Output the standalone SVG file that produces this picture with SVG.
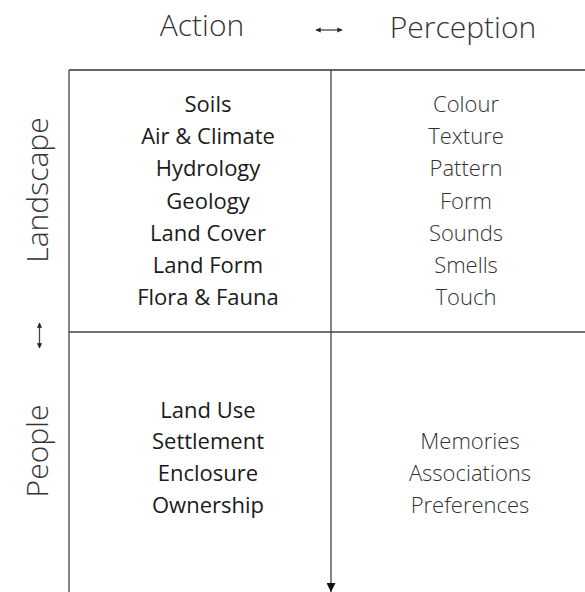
<svg xmlns="http://www.w3.org/2000/svg" width="585" height="592" viewBox="0 0 585 592">
<style>
.t{font-family:"Open Sans","Liberation Sans",sans-serif;fill:#1a1a1a;text-anchor:middle}
.hd{font-size:30px;font-weight:300;fill:#333}
.a{font-size:22px}
.p{font-size:22px;font-weight:300;fill:#333}
.ln{stroke:#444;stroke-width:1.3;fill:none}
</style>
<defs>
<marker id="ah" viewBox="0 0 10 10" refX="9" refY="5" markerWidth="4" markerHeight="4" orient="auto-start-reverse"><path d="M0,0L10,5L0,10z" fill="#222"/></marker>
<marker id="big" viewBox="0 0 10 10" refX="10" refY="5" markerWidth="9" markerHeight="9" markerUnits="userSpaceOnUse" orient="auto"><path d="M0,0L10,5L0,10z" fill="#111"/></marker>
</defs>
<g id="headers">
<text class="t hd" x="202" y="36">Action</text>
<text class="t hd" x="463" y="38">Perception</text>
<text class="t hd" transform="translate(48,190) rotate(-90)">Landscape</text>
<text class="t hd" transform="translate(48,451) rotate(-90)">People</text>
</g>
<g id="connectors">
<line class="ln" x1="69" y1="70" x2="585" y2="70" style="stroke:#333"/>
<line class="ln" x1="69" y1="70" x2="69" y2="592"/>
<line class="ln" x1="69" y1="332" x2="585" y2="332"/>
<line class="ln" x1="331" y1="70" x2="331" y2="592" marker-end="url(#big)"/>
<line class="ln" x1="316" y1="30" x2="342" y2="30" marker-start="url(#ah)" marker-end="url(#ah)"/>
<line class="ln" x1="39.5" y1="323" x2="39.5" y2="348" marker-start="url(#ah)" marker-end="url(#ah)"/>
</g>
<g id="landscape-action">
<text class="t a" x="208" y="112">Soils</text>
<text class="t a" x="208" y="144">Air &amp; Climate</text>
<text class="t a" x="208" y="176">Hydrology</text>
<text class="t a" x="208" y="209">Geology</text>
<text class="t a" x="208" y="241">Land Cover</text>
<text class="t a" x="208" y="273">Land Form</text>
<text class="t a" x="208" y="305">Flora &amp; Fauna</text>
</g>
<g id="landscape-perception">
<text class="t p" x="466" y="112">Colour</text>
<text class="t p" x="466" y="144">Texture</text>
<text class="t p" x="466" y="176">Pattern</text>
<text class="t p" x="466" y="209">Form</text>
<text class="t p" x="466" y="241">Sounds</text>
<text class="t p" x="466" y="273">Smells</text>
<text class="t p" x="466" y="305">Touch</text>
</g>
<g id="people-action">
<text class="t a" x="208" y="418">Land Use</text>
<text class="t a" x="208" y="449">Settlement</text>
<text class="t a" x="208" y="481">Enclosure</text>
<text class="t a" x="208" y="513">Ownership</text>
</g>
<g id="people-perception">
<text class="t p" x="470" y="449">Memories</text>
<text class="t p" x="470" y="481">Associations</text>
<text class="t p" x="470" y="513">Preferences</text>
</g>
</svg>
